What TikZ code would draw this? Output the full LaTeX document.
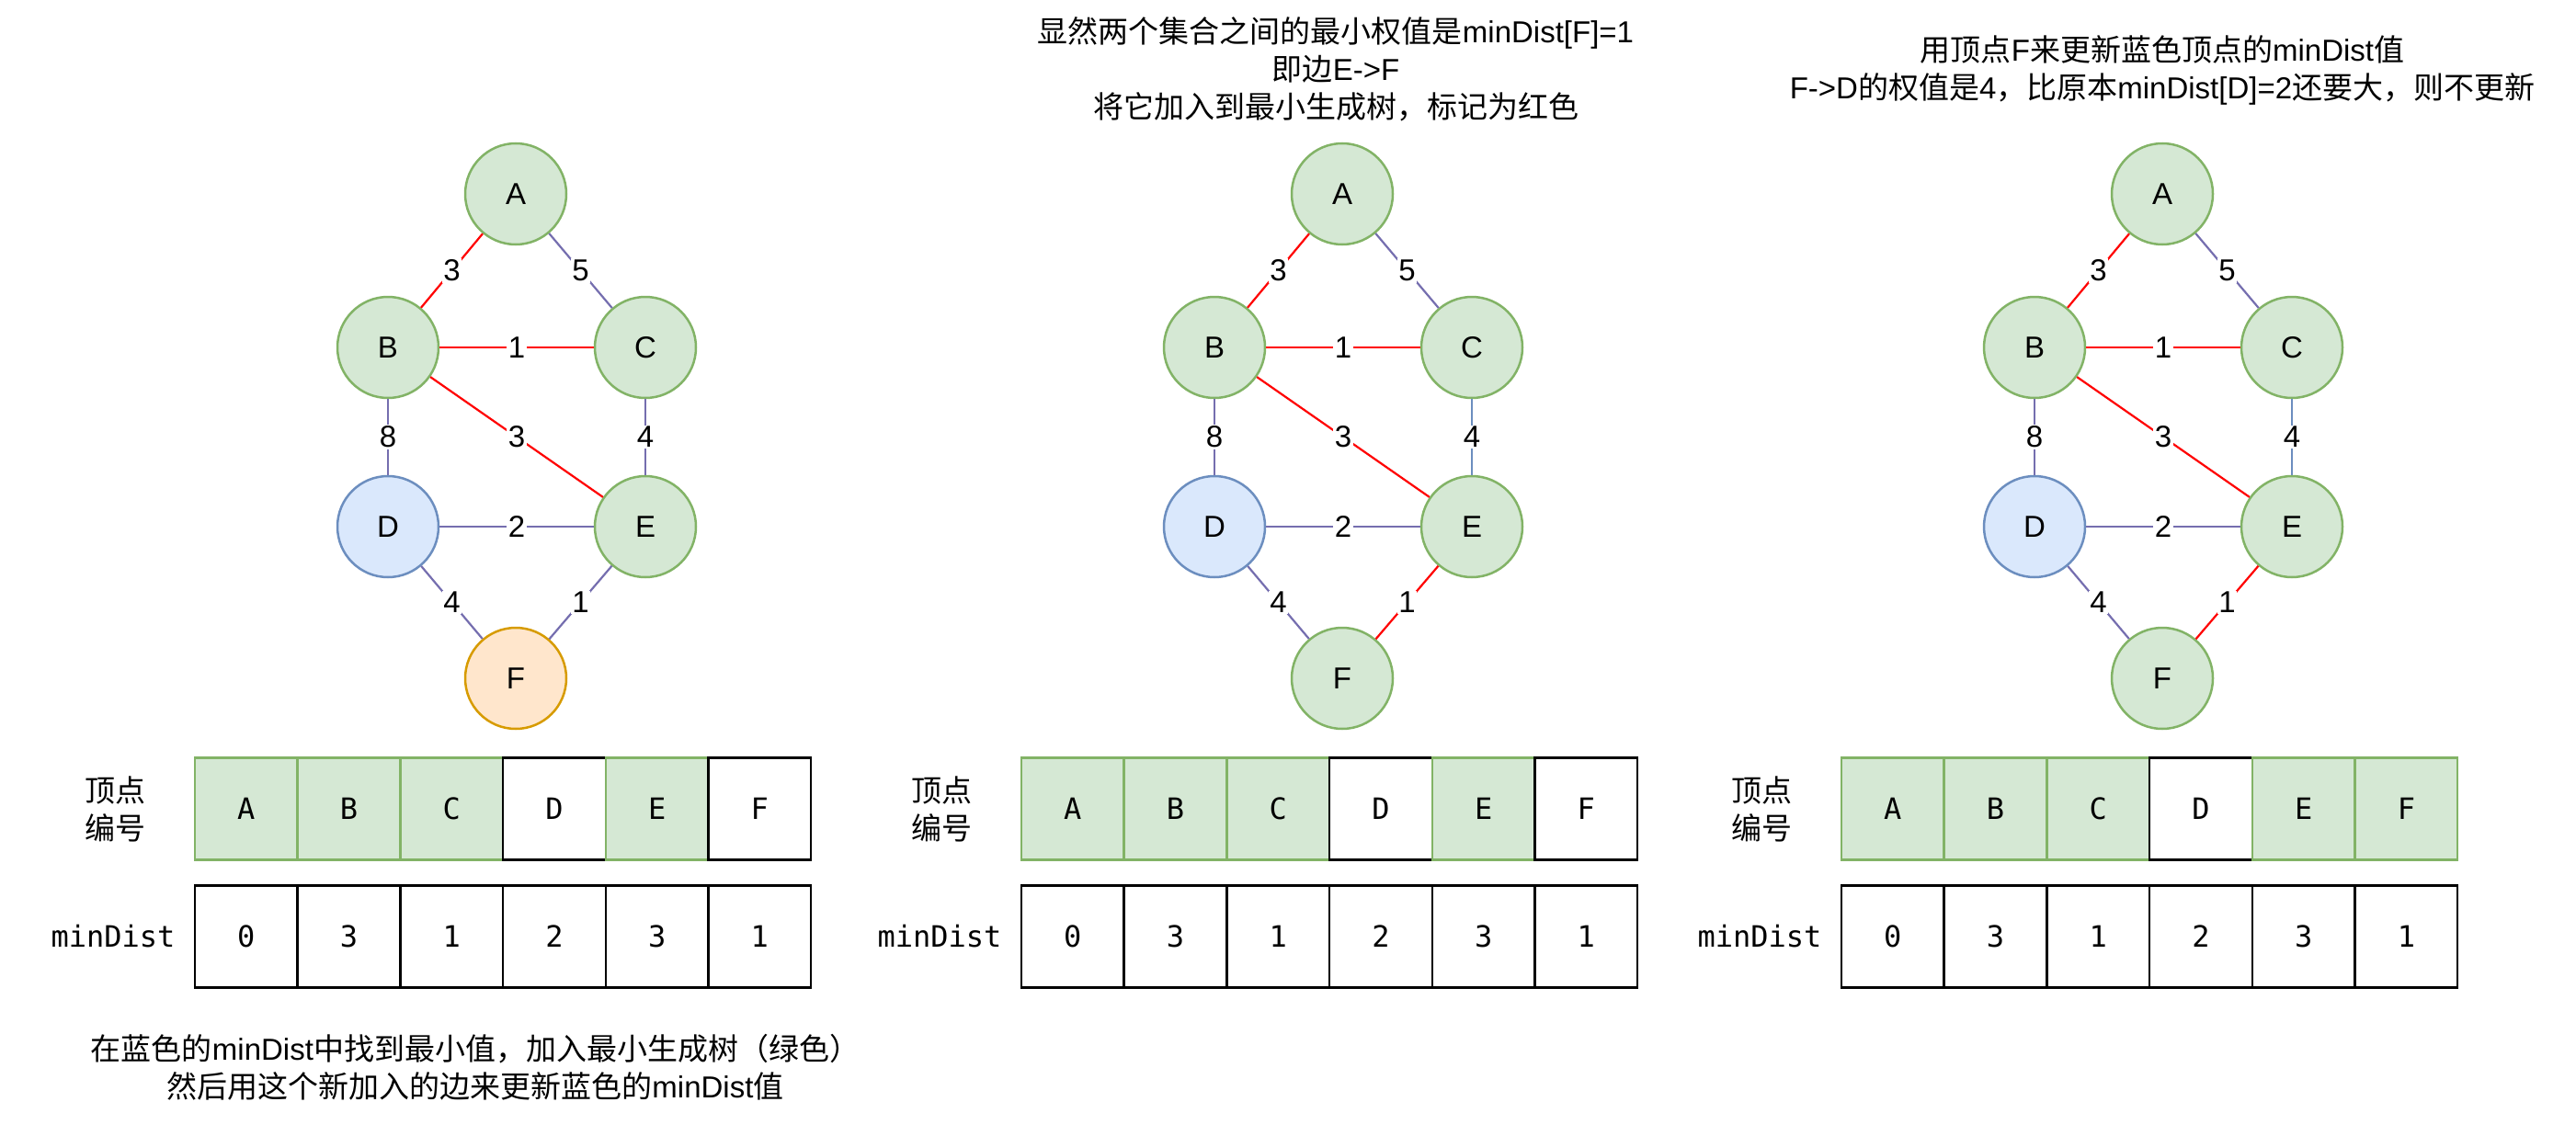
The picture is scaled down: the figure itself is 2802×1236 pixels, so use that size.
\documentclass[tikz,border=0pt]{standalone}
\usepackage{fontspec}
\newfontfamily\lat{Liberation Sans}
\newfontfamily\cjk{Noto Sans CJK SC}
\newfontfamily\monof{DejaVu Sans Mono}
\definecolor{gfill}{HTML}{D5E8D4}
\definecolor{gline}{HTML}{82B366}
\definecolor{bfill}{HTML}{DAE8FC}
\definecolor{bline}{HTML}{6C8EBF}
\definecolor{ofill}{HTML}{FFE6CC}
\definecolor{oline}{HTML}{D79B00}
\definecolor{redc}{HTML}{FF0000}
\definecolor{purc}{HTML}{756EAF}
\tikzset{
 gnode/.style={circle, draw=gline, fill=gfill, line width=2.5pt, minimum size=110pt, inner sep=0pt, font=\lat\fontsize{33}{40}\selectfont},
 bnode/.style={gnode, draw=bline, fill=bfill},
 onode/.style={gnode, draw=oline, fill=ofill},
 redE/.style={draw=redc, line width=2.2pt},
 purE/.style={draw=purc, line width=2.2pt},
 bluE/.style={draw=bline, line width=2.2pt},
 lbl/.style={fill=white, inner sep=1.5pt, font=\lat\fontsize{33}{40}\selectfont},
 gcell/.style={rectangle, draw=gline, fill=gfill, line width=2.5pt, minimum width=111.7pt, minimum height=111pt, inner sep=0pt, font=\monof\fontsize{32}{40}\selectfont},
 wcell/.style={gcell, draw=black, fill=white},
 rowlab/.style={font=\cjk\fontsize{33}{41}\selectfont, align=center, inner sep=0pt},
 monolab/.style={font=\monof\fontsize{32}{40}\selectfont, inner sep=0pt},
 note/.style={font=\cjk\fontsize{33}{41}\selectfont, align=center, inner sep=0pt},
}
% #1 xshift, #2 suffix, #3 F style, #4 E-F edge style, #5 C-E edge style, #6 top-row cell styles
\newcommand\mypanel[6]{%
\begin{scope}[xshift=#1]
 \node[gnode] (A#2) at (561,211) {A};
 \node[gnode] (B#2) at (422,378) {B};
 \node[gnode] (C#2) at (702,378) {C};
 \node[bnode] (D#2) at (422,573) {D};
 \node[gnode] (E#2) at (702,573) {E};
 \node[#3] (F#2) at (561,738) {F};
 \draw[redE] (A#2) -- node[lbl]{3} (B#2);
 \draw[purE] (A#2) -- node[lbl]{5} (C#2);
 \draw[redE] (B#2) -- node[lbl]{1} (C#2);
 \draw[redE] (B#2) -- node[lbl]{3} (E#2);
 \draw[purE] (B#2) -- node[lbl]{8} (D#2);
 \draw[#5] (C#2) -- node[lbl]{4} (E#2);
 \draw[purE] (D#2) -- node[lbl]{2} (E#2);
 \draw[purE] (D#2) -- node[lbl]{4} (F#2);
 \draw[#4] (E#2) -- node[lbl]{1} (F#2);
 \node[rowlab] (rl#2) at (125,880) {顶点\\编号};
 \node[monolab] (ml#2) at (123,1019) {minDist};
 \foreach \l/\s [count=\i from 0] in {#6}
   \node[\s] (t\l#2) at (267.85+111.7*\i,880) {\l};
 \foreach \l/\v [count=\i from 0] in {A/0,B/3,C/1,D/2,E/3,F/1}
   \node[wcell] (d\l#2) at (267.85+111.7*\i,1019) {\v};
\end{scope}}
\begin{document}
\begin{tikzpicture}[x=1pt,y=-1pt]
\useasboundingbox (0,0) rectangle (2802,1236);
\fill[white] (0,0) rectangle (2802,1236);
\mypanel{0pt}{a}{onode}{purE}{purE}{A/gcell,B/gcell,C/gcell,D/wcell,E/gcell,F/wcell}
\mypanel{899pt}{b}{gnode}{redE}{bluE}{A/gcell,B/gcell,C/gcell,D/wcell,E/gcell,F/wcell}
\mypanel{1791pt}{c}{gnode}{redE}{bluE}{A/gcell,B/gcell,C/gcell,D/wcell,E/gcell,F/gcell}
\node[note] (n1) at (517,1161) {在蓝色的{\lat minDist}中找到最小值，加入最小生成树（绿色）\\然后用这个新加入的边来更新蓝色的{\lat minDist}值};
\node[note] (n2) at (1453,75) {显然两个集合之间的最小权值是{\lat minDist[F]=1}\\即边{\lat E->F}\\将它加入到最小生成树，标记为红色};
\node[note] (n3) at (2352,76) {用顶点{\lat F}来更新蓝色顶点的{\lat minDist}值\\{\lat F->D}的权值是{\lat 4}，比原本{\lat minDist[D]=2}还要大，则不更新};
\end{tikzpicture}
\end{document}
